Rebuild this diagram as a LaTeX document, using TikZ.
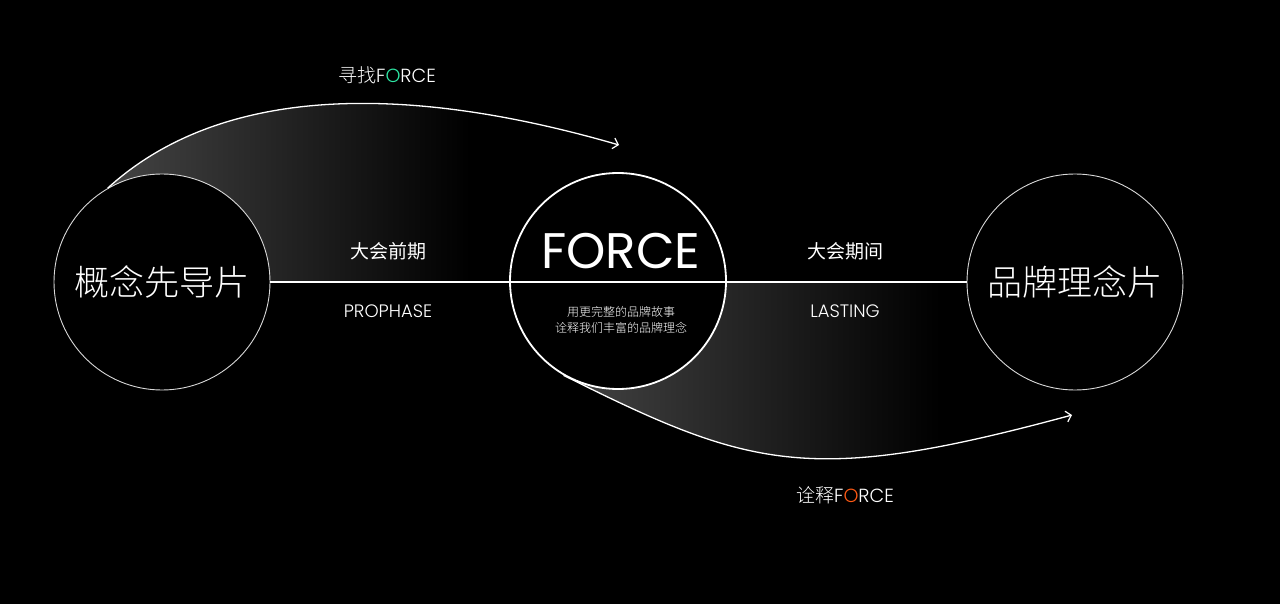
\documentclass[tikz,border=0pt]{standalone}
\usepackage{fontspec}
\setmainfont{Poppins}[UprightFont=* Light, BoldFont=*]
\newfontfamily\cjk{Noto Sans CJK SC}[UprightFont=* Light]
\newfontfamily\cjkreg{Noto Sans CJK SC}
\newfontfamily\popreg{Poppins}
\usetikzlibrary{arrows.meta}
\pgfdeclarelayer{bg}
\pgfsetlayers{bg,main}
\definecolor{fgreen}{HTML}{2EE8A5}
\definecolor{forange}{HTML}{FF5A14}
\definecolor{shadeg}{HTML}{444444}
\definecolor{ringgray}{HTML}{D8D8D8}
\begin{document}
\begin{tikzpicture}[x=1pt,y=-1pt,
  ring/.style={circle, minimum size=216pt, inner sep=0pt, draw=ringgray, line width=0.9pt, fill=black, text=white},
  flow/.style={draw=white, line width=1.3pt, -{Straight Barb[length=5pt,width=11pt,line width=1.2pt]}},
  lab/.style={text=white, inner sep=0pt},
  cjkbig/.style={font=\cjk\fontsize{35}{40}\selectfont},
  cjkmid/.style={font=\cjkreg\fontsize{19}{22}\selectfont},
  latmid/.style={font=\fontsize{18}{21}\selectfont},
]
\useasboundingbox (0,0) rectangle (1280,604);
% circles
\node[ring, cjkbig] (L) at (162,282) {概念先导片};
\node[ring, draw=white, line width=1.8pt] (C) at (618,281) {};
\node[ring, cjkbig] (R) at (1075,282) {品牌理念片};
\coordinate (t1) at (619,145);
\coordinate (t2) at (1072,415);
\begin{pgfonlayer}{bg}
\fill[black] (0,0) rectangle (1280,604);
\begin{scope}
\clip (L.120) .. controls (232,75) and (433,91) .. (t1) -- (618,282) -- (L.center) -- cycle;
\shade[left color=shadeg, right color=black] (108,80) rectangle (470,290);
\end{scope}
\begin{scope}
\clip (C.240) .. controls (751,469) and (810,486) .. (t2) -- (1072,282) -- (C.center) -- cycle;
\shade[left color=shadeg, right color=black] (562,280) rectangle (940,470);
\end{scope}
\end{pgfonlayer}
% main line
\draw[white, line width=1.1pt] (L.east) -- (R.west);
% arcs
\draw[flow] (L.120) .. controls (232,75) and (433,91) .. (t1);
\draw[flow] (C.240) .. controls (751,469) and (810,486) .. (t2);
% texts
\node[lab, font=\fontsize{19}{22}\selectfont] (top) at (387,75) {{\cjk 寻找}F\textcolor{fgreen}{O}RCE};
\node[lab, font=\fontsize{19}{22}\selectfont] (bot) at (845,495) {{\cjk 诠释}F\textcolor{forange}{O}RCE};
\node[lab, cjkmid] (pre) at (388,251) {大会前期};
\node[lab, latmid] (preen) at (388,311) {PROPHASE};
\node[lab, cjkmid] (dur) at (845,251) {大会期间};
\node[lab, latmid] (duren) at (845,311) {LASTING};
\node[lab, font=\popreg\fontsize{50}{54}\selectfont] (force) at (621,251) {FORCE};
\node[lab, font=\cjk\fontsize{12}{16}\selectfont, align=center] (desc) at (621,320) {用更完整的品牌故事\\诠释我们丰富的品牌理念};
\end{tikzpicture}
\end{document}
